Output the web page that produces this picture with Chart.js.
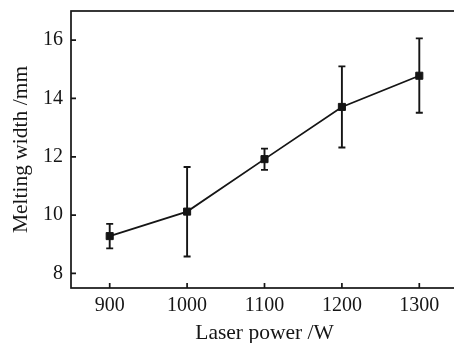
<!DOCTYPE html>
<html>
<head>
<meta charset="utf-8">
<script src="https://cdn.jsdelivr.net/npm/chart.js@4/dist/chart.umd.min.js"></script>
<style>
  html, body { margin: 0; padding: 0; background: #fff; overflow: hidden; }
  #wrap { width: 458px; height: 343px; }
</style>
</head>
<body>
<div id="wrap"><canvas id="myChart" width="458" height="343"></canvas></div>
<script>
// laser power (W) vs. melting width (mm), with error bars
const power = [900, 1000, 1100, 1200, 1300];
const width = [9.28, 10.12, 11.92, 13.71, 14.78];
const errHigh = [9.70, 11.65, 12.28, 15.10, 16.06];
const errLow = [8.86, 8.58, 11.55, 12.32, 13.51];
const xTicks = [900, 1000, 1100, 1200, 1300];
const yTicks = [8, 10, 12, 14, 16];

const ink = '#151515';
const serif = "'Liberation Serif', 'DejaVu Serif', serif";

// error bars with small caps
const errorBars = {
    id: 'errorBars',
    afterDatasetsDraw(chart) {
        const ctx = chart.ctx;
        const xs = chart.scales.x, ys = chart.scales.y;
        ctx.save();
        ctx.strokeStyle = ink;
        ctx.lineWidth = 1.9;
        for (let i = 0; i < power.length; i++) {
            const x = xs.getPixelForValue(power[i]);
            const top = ys.getPixelForValue(errHigh[i]);
            const bot = ys.getPixelForValue(errLow[i]);
            ctx.beginPath();
            ctx.moveTo(x, top); ctx.lineTo(x, bot);
            ctx.moveTo(x - 3.5, top); ctx.lineTo(x + 3.5, top);
            ctx.moveTo(x - 3.5, bot); ctx.lineTo(x + 3.5, bot);
            ctx.stroke();
        }
        ctx.restore();
    }
};

// frame and inward tick marks
const frame = {
    id: 'frame',
    afterDraw(chart) {
        const ctx = chart.ctx;
        const a = chart.chartArea;
        const xs = chart.scales.x, ys = chart.scales.y;
        ctx.save();
        ctx.strokeStyle = ink;
        ctx.lineWidth = 1.7;
        ctx.strokeRect(a.left, a.top, a.right - a.left, a.bottom - a.top);
        ctx.beginPath();
        xTicks.forEach(v => {
            const x = xs.getPixelForValue(v);
            ctx.moveTo(x, a.bottom); ctx.lineTo(x, a.bottom - 5);
        });
        yTicks.forEach(v => {
            const y = ys.getPixelForValue(v);
            ctx.moveTo(a.left, y); ctx.lineTo(a.left + 5, y);
        });
        ctx.stroke();
        ctx.restore();
    }
};

const ctx = document.getElementById('myChart').getContext('2d');
const myChart = new Chart(ctx, {
    type: 'scatter',
    data: {
        datasets: [{
            data: power.map((p, i) => ({ x: p, y: width[i] })),
            showLine: true,
            borderColor: ink,
            borderWidth: 1.8,
            backgroundColor: ink,
            pointStyle: 'rect',
            pointRadius: 5,
            pointBorderWidth: 1,
            pointHoverRadius: 5
        }]
    },
    options: {
        responsive: false,
        animation: false,
        layout: { autoPadding: false, padding: { top: 11, left: 0, right: 0, bottom: 0 } },
        plugins: { legend: { display: false }, tooltip: { enabled: false } },
        scales: {
            x: {
                type: 'linear',
                min: 850,
                max: 1350,
                afterBuildTicks: s => { s.ticks = xTicks.map(v => ({ value: v })); },
                afterFit: s => { s.height = 55; s.paddingLeft = 0; s.paddingRight = 0; },
                grid: { display: false, drawTicks: false },
                border: { display: false },
                ticks: {
                    color: ink,
                    font: { family: serif, size: 20 },
                    padding: 6,
                    callback: v => String(v)
                },
                title: {
                    display: true,
                    text: 'Laser power /W',
                    color: ink,
                    font: { family: serif, size: 21.5 },
                    padding: { top: 0, bottom: -3 }
                }
            },
            y: {
                min: 7.5,
                max: 17,
                afterBuildTicks: s => { s.ticks = yTicks.map(v => ({ value: v })); },
                afterFit: s => { s.width = 71; s.paddingTop = 0; s.paddingBottom = 0; },
                grid: { display: false, drawTicks: false },
                border: { display: false },
                ticks: {
                    color: ink,
                    font: { family: serif, size: 20 },
                    padding: 8,
                    callback: v => String(v)
                },
                title: {
                    display: true,
                    text: 'Melting width /mm',
                    color: ink,
                    font: { family: serif, size: 21.5 },
                    padding: { top: 8, bottom: 0 }
                }
            }
        }
    },
    plugins: [errorBars, frame]
});
</script>
</body>
</html>
